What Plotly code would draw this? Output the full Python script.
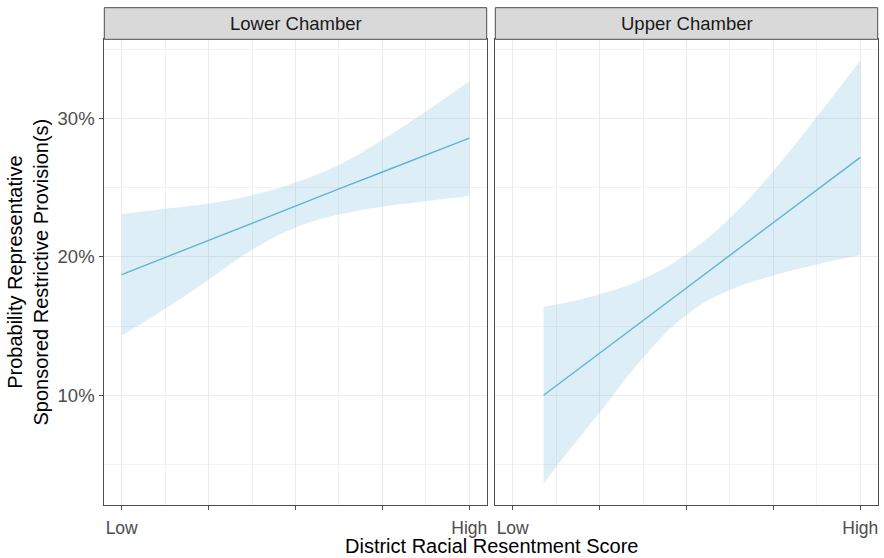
import plotly.graph_objects as go

# ---- data (x on 0..1 scale: Low -> High; y in percent) ----
panels = ["Lower Chamber", "Upper Chamber"]

lower_x = [0.0, 0.125, 0.25, 0.375, 0.5, 0.625, 0.75, 0.875, 1.0]
lower_fit = [18.71, 19.95, 21.2, 22.45, 23.7, 24.9, 26.12, 27.35, 28.57]
lower_hi = [23.08, 23.47, 23.85, 24.45, 25.36, 26.64, 28.45, 30.49, 32.67]
lower_lo = [14.30, 16.24, 18.35, 20.5, 22.1, 23.05, 23.62, 24.0, 24.38]

upper_x = [0.089, 0.125, 0.25, 0.375, 0.5, 0.625, 0.75, 0.875, 1.0]
upper_fit = [10.0, 10.68, 13.04, 15.39, 17.75, 20.11, 22.47, 24.82, 27.18]
upper_hi = [16.39, 16.55, 17.3, 18.4, 20.2, 22.8, 26.2, 30.1, 34.17]
upper_lo = [3.61, 4.82, 8.75, 12.7, 15.8, 17.6, 18.65, 19.45, 20.12]

x_tickvals = [0, 0.25, 0.5, 0.75, 1.0]
x_ticktext = ["Low", "", "", "", "High"]
x_minor = [0.125, 0.375, 0.625, 0.875]
y_tickvals = [10, 20, 30]
y_ticktext = ["10%", "20%", "30%"]
y_minor = [5, 15, 25, 35]

# ---- styling ----
FONT = "Liberation Sans, Arial, sans-serif"
LINE_COLOR = "#5fb5d6"
FILL_COLOR = "rgba(100,176,214,0.22)"
BORDER = "#4d4d4d"
W, H = 884, 558

px = lambda v: v / W
py = lambda v: 1 - v / H

dom_x = [[px(104.3), px(486.7)], [px(495.3), px(877.7)]]
dom_y = [py(505), py(39.3)]

fig = go.Figure()

series = [
    (lower_x, lower_fit, lower_hi, lower_lo),
    (upper_x, upper_fit, upper_hi, upper_lo),
]
for i, (xs, fit, hi, lo) in enumerate(series):
    xa = "x" if i == 0 else "x2"
    ya = "y" if i == 0 else "y2"
    fig.add_trace(go.Scatter(x=xs, y=lo, mode="lines", line=dict(width=0, shape="spline", smoothing=1.3),
                             hoverinfo="skip", showlegend=False, xaxis=xa, yaxis=ya))
    fig.add_trace(go.Scatter(x=xs, y=hi, mode="lines", line=dict(width=0, shape="spline", smoothing=1.3),
                             fill="tonexty", fillcolor=FILL_COLOR,
                             hoverinfo="skip", showlegend=False, xaxis=xa, yaxis=ya))
    fig.add_trace(go.Scatter(x=xs, y=fit, mode="lines", line=dict(color=LINE_COLOR, width=1.4),
                             showlegend=False, xaxis=xa, yaxis=ya))

xcommon = dict(
    range=[-0.05, 1.05], tickmode="array", tickvals=x_tickvals, ticktext=x_ticktext,
    showgrid=True, gridcolor="#ebebeb", gridwidth=1.1,
    minor=dict(tickmode="array", tickvals=x_minor, showgrid=True, gridcolor="#f3f3f3", gridwidth=0.8, ticks=""),
    showline=True, mirror=True, linecolor=BORDER, linewidth=1,
    ticks="outside", ticklen=4, tickcolor=BORDER, tickwidth=1,
    tickfont=dict(family=FONT, size=17.5, color="#4d4d4d"),
    zeroline=False, fixedrange=True, ticklabelstandoff=3,
)
ycommon = dict(
    range=[2.08, 35.70], tickmode="array", tickvals=y_tickvals, ticktext=y_ticktext,
    showgrid=True, gridcolor="#ebebeb", gridwidth=1.1,
    minor=dict(tickmode="array", tickvals=y_minor, showgrid=True, gridcolor="#f3f3f3", gridwidth=0.8, ticks=""),
    showline=True, mirror=True, linecolor=BORDER, linewidth=1,
    tickfont=dict(family=FONT, size=18.5, color="#4d4d4d"),
    zeroline=False, fixedrange=True, domain=dom_y,
)

fig.update_layout(
    width=W, height=H, margin=dict(l=0, r=0, t=0, b=0),
    paper_bgcolor="white", plot_bgcolor="white",
    xaxis=dict(xcommon, domain=dom_x[0], anchor="y"),
    xaxis2=dict(xcommon, domain=dom_x[1], anchor="y2"),
    yaxis=dict(ycommon, anchor="x", ticks="outside", ticklen=4, tickcolor=BORDER, tickwidth=1,
               ticklabelstandoff=1),
    yaxis2=dict(ycommon, anchor="x2", showticklabels=False, ticks=""),
)

# facet strips
for i, name in enumerate(panels):
    fig.add_shape(type="rect", xref="paper", yref="paper",
                  x0=dom_x[i][0], x1=dom_x[i][1], y0=py(39.3), y1=py(7.7),
                  fillcolor="#d9d9d9", line=dict(color=BORDER, width=1), layer="above")
    fig.add_annotation(xref="paper", yref="paper", x=(dom_x[i][0] + dom_x[i][1]) / 2,
                       y=(py(39.3) + py(7.7)) / 2, text=name, showarrow=False,
                       xanchor="center", yanchor="middle",
                       font=dict(family=FONT, size=18.5, color="#1a1a1a"))

# axis titles
fig.add_annotation(xref="paper", yref="paper", x=(dom_x[0][0] + dom_x[1][1]) / 2, y=py(546),
                   text="District Racial Resentment Score", showarrow=False,
                   xanchor="center", yanchor="middle",
                   font=dict(family=FONT, size=20, color="#000000"))
fig.add_annotation(xref="paper", yref="paper", x=px(27.5), y=py(272),
                   text="Probability Representative<br>Sponsored Restrictive Provision(s)",
                   showarrow=False, textangle=-90, xanchor="center", yanchor="middle",
                   font=dict(family=FONT, size=20, color="#000000"))

fig.write_html("out.html", config={"displayModeBar": False},
               post_script="document.body.style.margin='0';document.body.style.overflow='hidden';")
